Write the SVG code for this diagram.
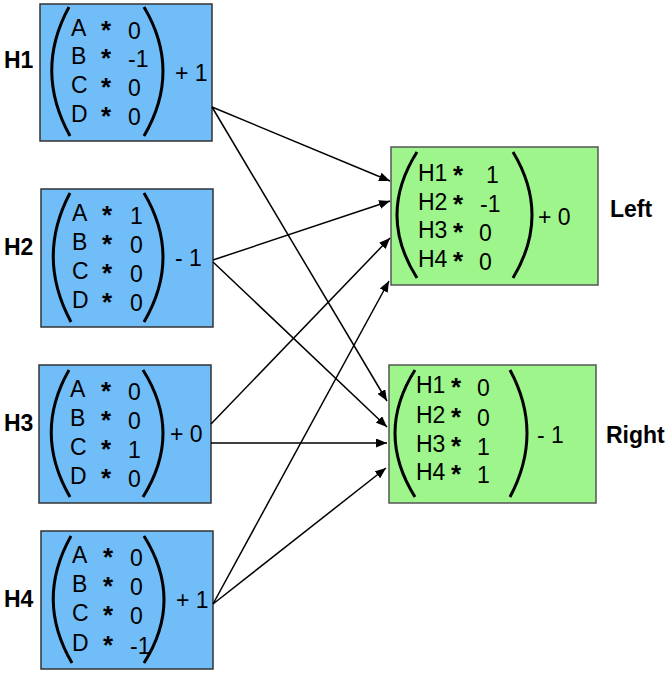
<svg xmlns="http://www.w3.org/2000/svg" width="669" height="674" viewBox="0 0 669 674">
<defs>
<style>
.blue{fill:#71bdf8;stroke:#333;stroke-width:1.5}
.green{fill:#9ef58b;stroke:#555;stroke-width:1.5}
.par{fill:none;stroke:#000;stroke-width:3}
text{font-family:"Liberation Sans",Arial,sans-serif;font-size:23px;fill:#000}
.lbl{font-weight:bold;font-size:23px}
.star{font-size:26px;font-weight:bold}
.con line{stroke:#000;stroke-width:1.5;marker-end:url(#ah)}
</style>
<marker id="ah" markerUnits="userSpaceOnUse" markerWidth="11" markerHeight="9" refX="11" refY="4.5" orient="auto">
<path d="M0,0 L11,4.5 L0,9 z" fill="#000"/>
</marker>
</defs>
<rect width="669" height="674" fill="#fff"/>

<g id="H1">
<rect class="blue" x="40" y="4" width="172" height="137"/>
<path class="par" d="M69,7 Q34,71 70,136"/>
<path class="par" d="M144,7 Q182,71 144,136"/>
<text x="71" y="36">A</text><text x="71" y="64">B</text><text x="71" y="93">C</text><text x="71" y="122">D</text>
<text class="star" x="101" y="39">*</text><text class="star" x="101" y="67">*</text><text class="star" x="101" y="96">*</text><text class="star" x="101" y="125">*</text>
<text x="128" y="39">0</text><text x="128" y="67">-1</text><text x="128" y="96">0</text><text x="128" y="125">0</text>
<text x="175" y="81">+ 1</text>
<text class="lbl" x="4" y="68">H1</text>
</g>

<g id="H2">
<rect class="blue" x="41" y="189" width="172" height="138"/>
<path class="par" d="M70,193 Q36,257 71,322"/>
<path class="par" d="M144,193 Q182,257 144,322"/>
<text x="72" y="221">A</text><text x="72" y="250">B</text><text x="72" y="279">C</text><text x="72" y="308">D</text>
<text class="star" x="102" y="224">*</text><text class="star" x="102" y="253">*</text><text class="star" x="102" y="282">*</text><text class="star" x="102" y="311">*</text>
<text x="130" y="224">1</text><text x="130" y="253">0</text><text x="130" y="282">0</text><text x="130" y="311">0</text>
<text x="175" y="266">- 1</text>
<text class="lbl" x="4" y="255">H2</text>
</g>

<g id="H3">
<rect class="blue" x="39" y="365" width="172" height="138"/>
<path class="par" d="M69,370 Q33,433 70,497"/>
<path class="par" d="M143,370 Q183,433 143,497"/>
<text x="70" y="397">A</text><text x="70" y="426">B</text><text x="70" y="455">C</text><text x="70" y="484">D</text>
<text class="star" x="101" y="400">*</text><text class="star" x="101" y="429">*</text><text class="star" x="101" y="458">*</text><text class="star" x="101" y="487">*</text>
<text x="128" y="400">0</text><text x="128" y="429">0</text><text x="128" y="458">1</text><text x="128" y="487">0</text>
<text x="170" y="442">+ 0</text>
<text class="lbl" x="4" y="431">H3</text>
</g>

<g id="H4">
<rect class="blue" x="41" y="531" width="172" height="138"/>
<path class="par" d="M71,536 Q35,600 72,663"/>
<path class="par" d="M144,536 Q184,600 144,663"/>
<text x="72" y="563">A</text><text x="72" y="592">B</text><text x="72" y="621">C</text><text x="72" y="651">D</text>
<text class="star" x="103" y="566">*</text><text class="star" x="103" y="595">*</text><text class="star" x="103" y="624">*</text><text class="star" x="103" y="654">*</text>
<text x="130" y="566">0</text><text x="130" y="595">0</text><text x="130" y="624">0</text><text x="130" y="654">-1</text>
<text x="176" y="608">+ 1</text>
<text class="lbl" x="4" y="607">H4</text>
</g>

<g id="Left">
<rect class="green" x="391" y="147" width="207" height="138"/>
<path class="par" d="M417,152 Q377,215 417,278"/>
<path class="par" d="M513,152 Q551,215 513,278"/>
<text x="418" y="181">H1</text><text x="418" y="210">H2</text><text x="418" y="238">H3</text><text x="418" y="267">H4</text>
<text class="star" x="453" y="184">*</text><text class="star" x="453" y="213">*</text><text class="star" x="453" y="241">*</text><text class="star" x="453" y="270">*</text>
<text x="486" y="183">1</text><text x="480" y="212">-1</text><text x="479" y="241">0</text><text x="479" y="270">0</text>
<text x="538" y="225">+ 0</text>
<text class="lbl" x="610" y="217">Left</text>
</g>

<g id="Right">
<rect class="green" x="389" y="365" width="207" height="138"/>
<path class="par" d="M415,370 Q375,433 415,497"/>
<path class="par" d="M510,370 Q544,433 510,497"/>
<text x="416" y="393">H1</text><text x="416" y="423">H2</text><text x="416" y="452">H3</text><text x="416" y="480">H4</text>
<text class="star" x="451" y="396">*</text><text class="star" x="451" y="426">*</text><text class="star" x="451" y="455">*</text><text class="star" x="451" y="483">*</text>
<text x="477" y="396">0</text><text x="477" y="426">0</text><text x="477" y="455">1</text><text x="477" y="483">1</text>
<text x="537" y="443">- 1</text>
<text class="lbl" x="606" y="443">Right</text>
</g>

<g id="connectors" class="con">
<line x1="212" y1="107" x2="390" y2="181"/>
<line x1="212" y1="107" x2="387" y2="401"/>
<line x1="213" y1="260" x2="390" y2="201"/>
<line x1="213" y1="262" x2="387" y2="427"/>
<line x1="211" y1="424" x2="390" y2="238"/>
<line x1="211" y1="443" x2="387" y2="443"/>
<line x1="213" y1="604" x2="389" y2="281"/>
<line x1="213" y1="604" x2="386" y2="468"/>
</g>
</svg>
